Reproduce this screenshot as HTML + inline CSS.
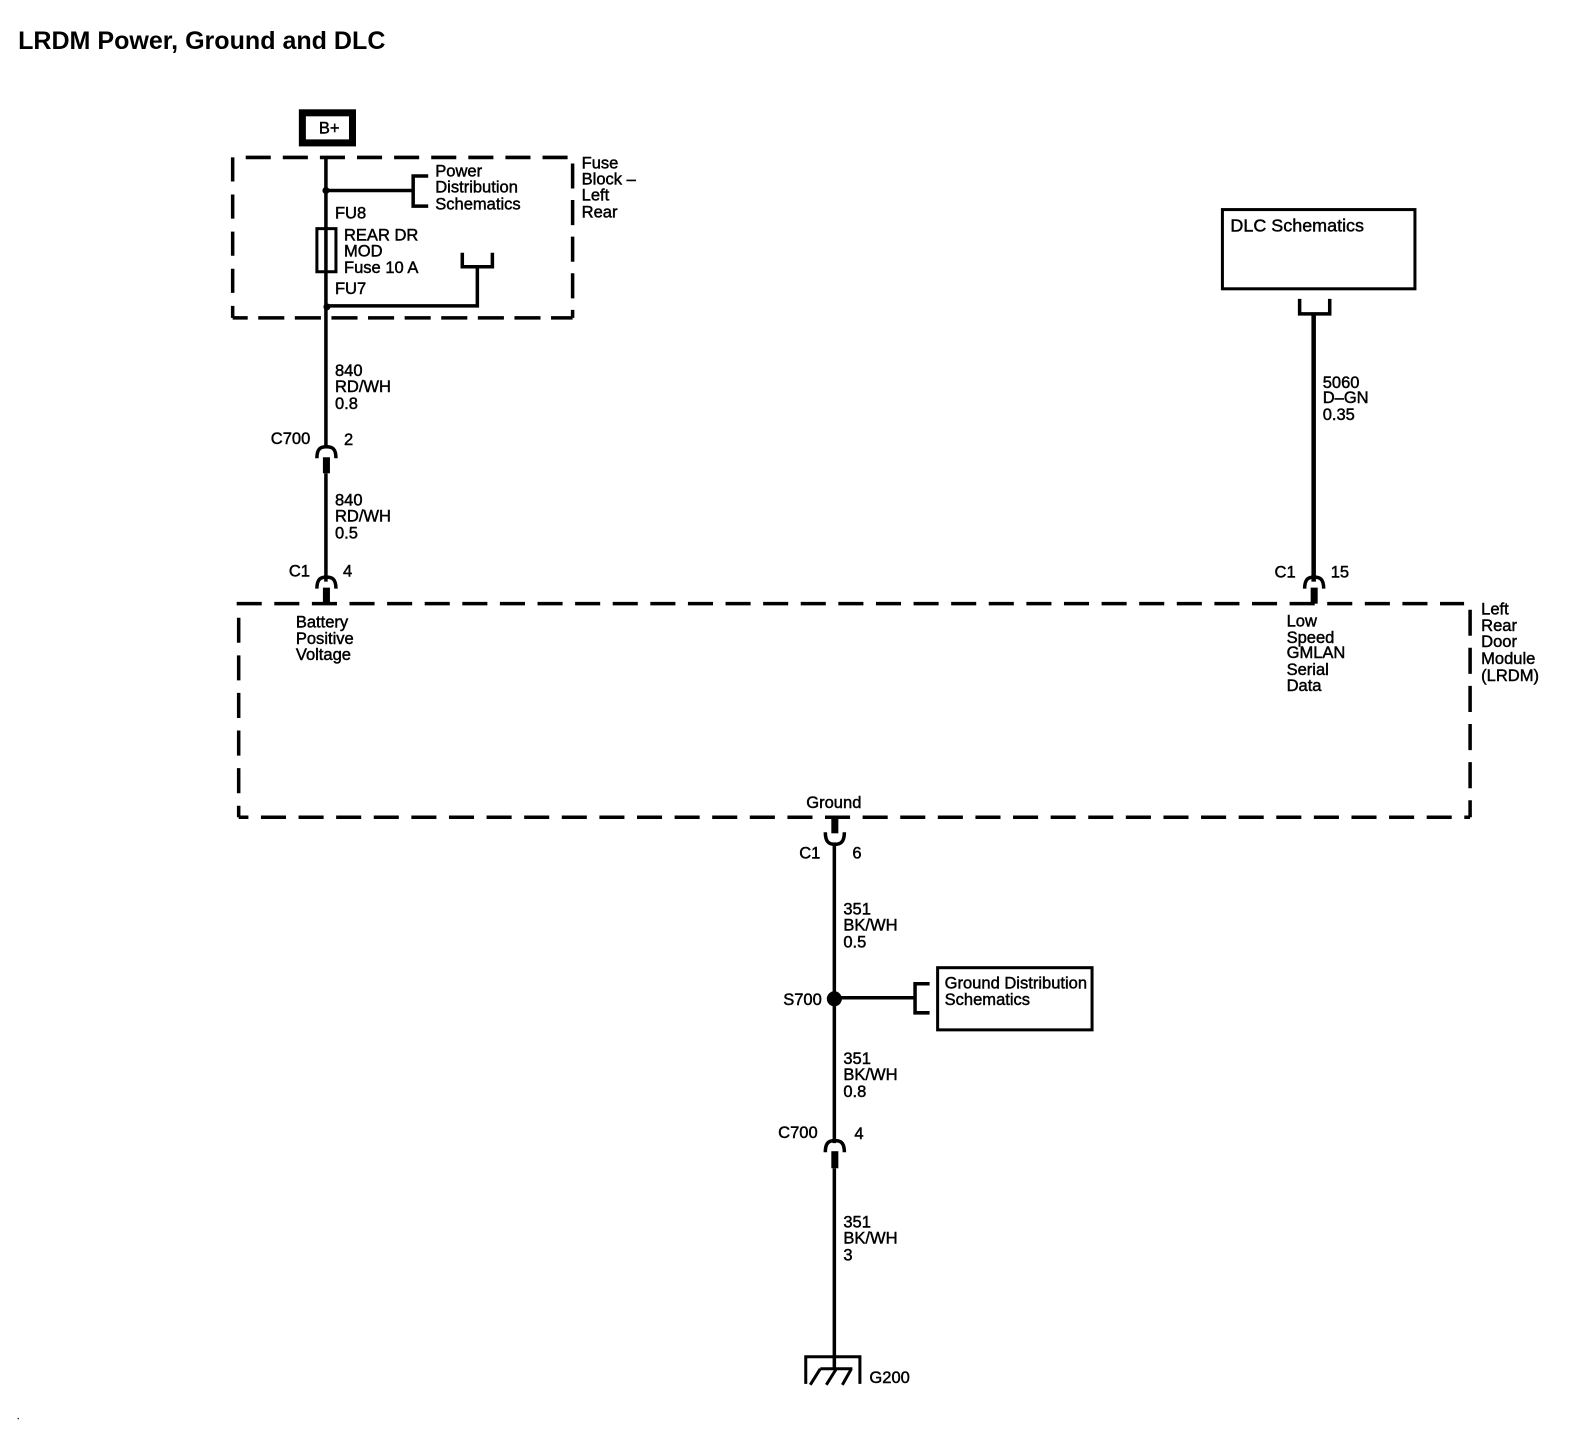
<!DOCTYPE html>
<html><head><meta charset="utf-8"><title>LRDM Power, Ground and DLC</title>
<style>
html,body{margin:0;padding:0;background:#fff;width:1572px;height:1440px;overflow:hidden}
svg{display:block}
text{font-family:"Liberation Sans",sans-serif;font-size:16.5px;fill:#000;stroke:#000;stroke-width:.45px}
.t{font-size:25px;font-weight:bold;stroke:none}
.l{fill:none;stroke:#000;stroke-width:3.5}
.a{fill:none;stroke:#000;stroke-width:3.5}
.s{fill:none;stroke:#000;stroke-width:3.5}
</style></head><body>
<svg width="1572" height="1440" viewBox="0 0 1567.6 1436" xmlns="http://www.w3.org/2000/svg">
<rect width="1568" height="1436" fill="#fff"/>
<text class="t" x="18" y="49">LRDM Power, Ground and DLC</text>

<!-- B+ -->
<rect x="301.5" y="112.5" width="50" height="30" fill="none" stroke="#000" stroke-width="7"/>
<text x="318" y="133">B+</text>

<!-- Fuse block -->
<path class="s" d="M245 157H568" stroke-dasharray="25 12"/>
<path class="s" d="M571 163V317" stroke-dasharray="25 11.5"/>
<path class="s" d="M232 317H571" stroke-dasharray="26 10.5" stroke-dashoffset="11"/>
<path class="s" d="M232 317V157" stroke-dasharray="24 13" stroke-dashoffset="12"/>
<path class="l" d="M325 157V445"/>
<path class="l" d="M325 190H412M427 175.5H412V205.5H427"/>
<circle cx="325" cy="190" r="3.5"/>
<circle cx="326" cy="306" r="3.5"/>
<rect x="316" y="228" width="19" height="43" fill="#fff" stroke="#000" stroke-width="3"/>
<path class="l" d="M325 228V271"/>
<path class="l" d="M326 305H476V266M461 252V266H491V252"/>
<text x="434" y="176">Power</text>
<text x="434" y="192">Distribution</text>
<text x="434" y="209">Schematics</text>
<text x="580" y="168">Fuse</text>
<text x="580" y="184">Block –</text>
<text x="580" y="200">Left</text>
<text x="580" y="217">Rear</text>
<text x="334" y="218">FU8</text>
<text x="343" y="240">REAR DR</text>
<text x="343" y="256">MOD</text>
<text x="343" y="272">Fuse 10 A</text>
<text x="334" y="293">FU7</text>

<text x="334" y="375">840</text>
<text x="334" y="391">RD/WH</text>
<text x="334" y="408">0.8</text>
<text x="270" y="443">C700</text>
<text x="343" y="444">2</text>
<path class="a" d="M316 457C316 447 320 445.5 325.5 445.5C331 445.5 335 447 335 457"/>
<rect x="322" y="456" width="7" height="16"/>
<path class="l" d="M325 472V580"/>
<text x="334" y="504">840</text>
<text x="334" y="520">RD/WH</text>
<text x="334" y="537">0.5</text>
<text x="288" y="575">C1</text>
<text x="342" y="575">4</text>
<path class="a" d="M316 587C316 577 320 575.5 325.5 575.5C331 575.5 335 577 335 587"/>
<rect x="322" y="586" width="7" height="16"/>
<text x="295" y="626">Battery</text>
<text x="295" y="642">Positive</text>
<text x="295" y="658">Voltage</text>

<!-- Module -->
<path class="s" d="M236 602H1460" stroke-dasharray="25 12.5"/>
<path class="s" d="M1466 608V815" stroke-dasharray="26 12"/>
<path class="s" d="M238 815H1466" stroke-dasharray="25 12.5" stroke-dashoffset="15.3"/>
<path class="s" d="M238 616V815" stroke-dasharray="25 12.5"/>
<text x="1477" y="613">Left</text>
<text x="1477" y="629">Rear</text>
<text x="1477" y="645">Door</text>
<text x="1477" y="662">Module</text>
<text x="1477" y="679">(LRDM)</text>

<!-- DLC -->
<rect x="1219" y="209" width="192" height="79" fill="none" stroke="#000" stroke-width="3"/>
<text x="1227" y="231" style="font-size:17.9px">DLC Schematics</text>
<path class="l" d="M1296 298V313H1326V298"/>
<path d="M1310 313V580" fill="none" stroke="#000" stroke-width="4.5"/>
<text x="1319" y="387">5060</text>
<text x="1319" y="402">D–GN</text>
<text x="1319" y="419">0.35</text>
<text x="1271" y="576">C1</text>
<text x="1327" y="576">15</text>
<path class="a" d="M1301 587C1301 577 1305 575.5 1310.5 575.5C1316 575.5 1320 577 1320 587"/>
<rect x="1307" y="586" width="7" height="16"/>
<text x="1283" y="625">Low</text>
<text x="1283" y="641">Speed</text>
<text x="1283" y="656">GMLAN</text>
<text x="1283" y="673">Serial</text>
<text x="1283" y="689">Data</text>

<!-- Ground -->
<text x="804" y="806">Ground</text>
<rect x="829" y="815" width="7" height="16"/>
<path class="a" d="M823 830C823 840 827 842 832.5 842C838 842 842 840 842 830"/>
<path class="l" d="M832 840V1140"/>
<text x="797" y="856">C1</text>
<text x="850" y="856">6</text>
<text x="841" y="912">351</text>
<text x="841" y="928">BK/WH</text>
<text x="841" y="945">0.5</text>
<circle cx="832" cy="996" r="7.5"/>
<text x="781" y="1002">S700</text>
<path class="l" d="M832 995H912.5M927 981H912.5V1010H927"/>
<rect x="935" y="965" width="154" height="62" fill="none" stroke="#000" stroke-width="3"/>
<text x="942" y="986">Ground Distribution</text>
<text x="942" y="1002">Schematics</text>
<text x="841" y="1061">351</text>
<text x="841" y="1077">BK/WH</text>
<text x="841" y="1094">0.8</text>
<text x="776" y="1135">C700</text>
<text x="852" y="1136">4</text>
<path class="a" d="M823 1149C823 1139 827 1137.5 832.5 1137.5C838 1137.5 842 1139 842 1149"/>
<rect x="829" y="1148" width="7" height="17"/>
<path class="l" d="M832 1165V1365"/>
<text x="841" y="1224">351</text>
<text x="841" y="1240">BK/WH</text>
<text x="841" y="1257">3</text>
<path class="l" style="stroke-width:3" d="M803.5 1380V1353H857.5V1380"/>
<path class="l" style="stroke-width:3" d="M818 1365H850M818 1365L808 1381M834 1365L824 1381M849 1365L840 1381"/>
<text x="867" y="1379">G200</text>
<text x="17" y="1415" style="font-size:8px">.</text>
</svg>
</body></html>
